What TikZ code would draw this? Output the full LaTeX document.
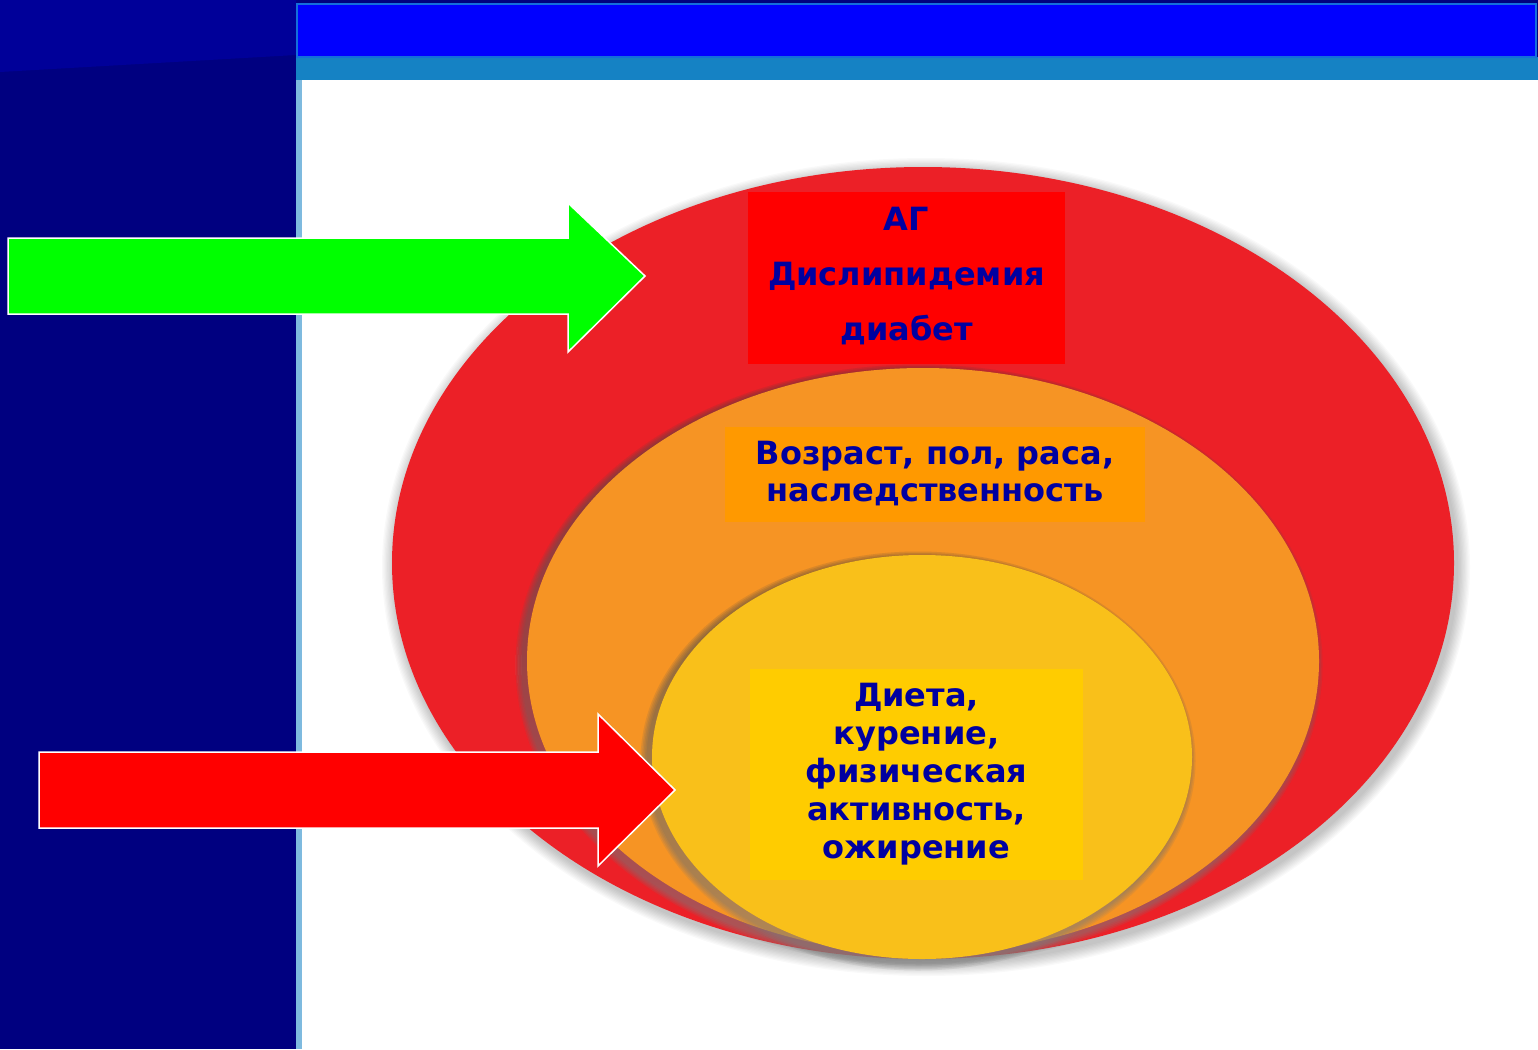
\documentclass[tikz,border=0pt]{standalone}
\usepackage{fontspec}
\setmainfont{DejaVu Sans}
\definecolor{navy}{RGB}{0,0,128}
\definecolor{navyl}{RGB}{0,0,153}
\definecolor{barblue}{RGB}{0,0,255}
\definecolor{barline}{RGB}{20,110,220}
\definecolor{band}{RGB}{21,130,196}
\definecolor{ered}{RGB}{236,32,39}
\definecolor{eorange}{RGB}{246,148,36}
\definecolor{eyellow}{RGB}{249,192,26}
\definecolor{txt}{RGB}{0,0,160}
\definecolor{boxred}{RGB}{255,0,0}
\definecolor{boxorange}{RGB}{255,153,0}
\definecolor{boxyellow}{RGB}{255,204,0}
\definecolor{shade}{RGB}{120,30,20}
\begin{document}
\begin{tikzpicture}[x=1pt,y=-1pt,
  lbl/.style={text=txt, font=\fontsize{32}{#1}\selectfont\bfseries, align=center, inner sep=0pt},
  bigarrow/.style={draw=white, line width=1.5pt, line join=miter}]
\useasboundingbox (0,0) rectangle (1538,1049);
% background
\fill[navy] (0,0) rectangle (1538,1049);
\fill[navyl] (0,0) -- (296,0) -- (296,55) -- (0,72) -- cycle;
\fill[white] (298,80) rectangle (1538,1049);
\fill[band!55] (296,80) rectangle (302,1049);
\fill[band] (296,57) rectangle (1538,80);
\filldraw[fill=barblue, draw=barline, line width=1.5pt] (297,4) rectangle (1536,57);
% soft halo of outer ellipse
\foreach \i in {1,...,10}
  \fill[black, opacity=0.025] (926,567) ellipse ({531+\i*1.3} and {396+\i*1.3});
\fill[ered] (923,563) ellipse (531 and 396);
% orange ellipse with shadow
\foreach \i in {1,...,5}
  \fill[shade, opacity=0.08] (919,665) ellipse ({396+\i*1.5} and {293+\i*1.5});
\fill[eorange] (923,661) ellipse (396 and 293);
% yellow ellipse with shadow
\foreach \i in {1,...,5}
  \fill[shade, opacity=0.08] (918,761) ellipse ({270+\i*1.5} and {202+\i*1.5});
\fill[eyellow] (922,757) ellipse (270 and 202);
% text boxes
\node[fill=boxred, minimum width=317pt, minimum height=172pt, inner sep=0pt] (rbox) at (906.5,278) {};
\node[lbl=55] (rtext) at (906.5,276) {АГ\\Дислипидемия\\диабет};
\node[fill=boxorange, minimum width=420pt, minimum height=95pt, inner sep=0pt] (obox) at (935,474.5) {};
\node[lbl=37] (otext) at (935,474) {Возраст, пол, раса,\\наследственность};
\node[fill=boxyellow, minimum width=333pt, minimum height=211pt, inner sep=0pt] (ybox) at (916.5,774.5) {};
\node[lbl=38] (ytext) at (916.5,774) {Диета,\\курение,\\физическая\\активность,\\ожирение};
% arrows
\filldraw[bigarrow, fill=green] (8,238) -- (568,238) -- (568,203) -- (645,276) -- (568,352) -- (568,314) -- (8,314) -- cycle;
\filldraw[bigarrow, fill=boxred] (39,752) -- (598,752) -- (598,714) -- (675,790) -- (598,866) -- (598,828) -- (39,828) -- cycle;
\end{tikzpicture}
\end{document}
